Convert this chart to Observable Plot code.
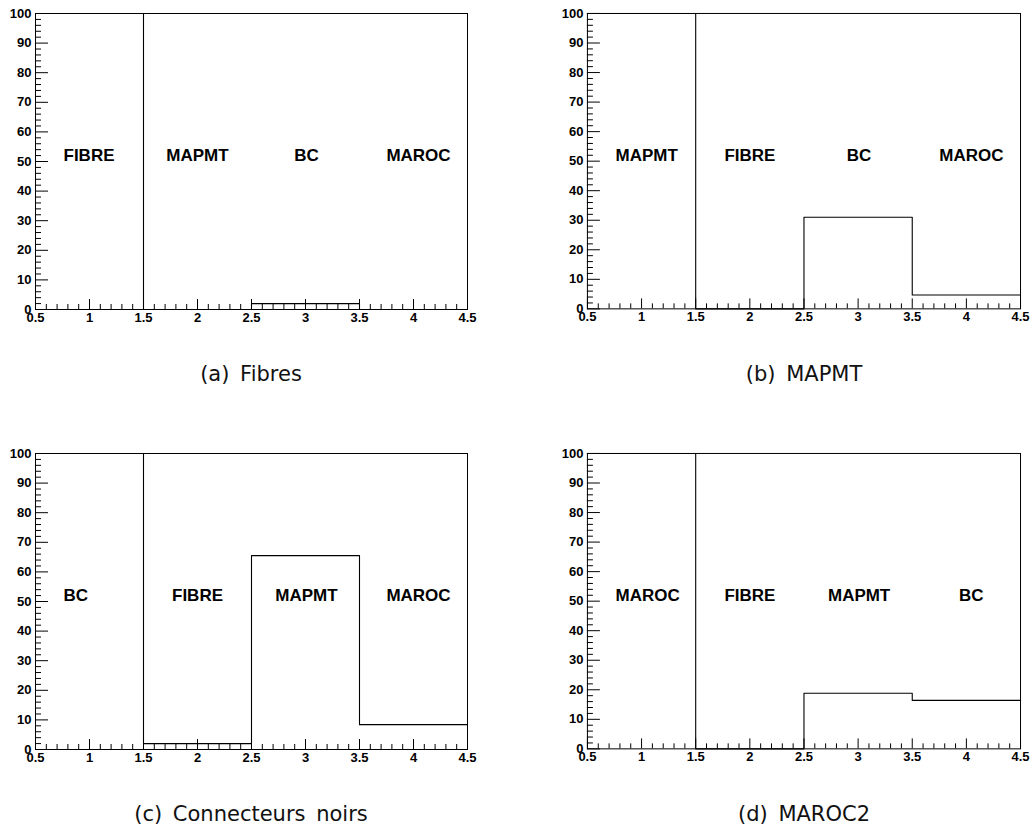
<!DOCTYPE html>
<html>
<head>
<meta charset="utf-8">
<script src="https://cdn.jsdelivr.net/npm/d3@7"></script>
<script src="https://cdn.jsdelivr.net/npm/@observablehq/plot@0.6"></script>
<style>
  html, body { margin: 0; padding: 0; background: #fff; }
  #page { position: relative; width: 1031px; height: 830px; background: #fff; overflow: hidden; }
  .panel { position: absolute; }
  .caption { position: absolute; width: 400px; text-align: center; font-family: "DejaVu Sans", sans-serif; font-size: 21px; color: #111; word-spacing: 4px; white-space: nowrap; }
</style>
</head>
<body>
<div id="page"></div>
<script>
// ---- data ----
const binEdges = [0.5, 1.5, 2.5, 3.5, 4.5];
const binCenters = [1, 2, 3, 4];
const xTicks = [0.5, 1, 1.5, 2, 2.5, 3, 3.5, 4, 4.5];
const yTicks = [0, 10, 20, 30, 40, 50, 60, 70, 80, 90, 100];

const labelsA = ["FIBRE", "MAPMT", "BC", "MAROC"];
const valuesA = [100, 0, 2, 0];
const labelsB = ["MAPMT", "FIBRE", "BC", "MAROC"];
const valuesB = [100, 0, 31, 4.7];
const labelsC = ["BC", "FIBRE", "MAPMT", "MAROC"];
const valuesC = [100, 2, 65.5, 8.4];
const labelsD = ["MAROC", "FIBRE", "MAPMT", "BC"];
const valuesD = [100, 0, 18.8, 16.4];
const captions = ["(a) Fibres", "(b) MAPMT", "(c) Connecteurs noirs", "(d) MAROC2"];
const labelLevel = 52;

// ---- layout ----
const panels = [
  {labels: labelsA, values: valuesA, left: 0,   top: 0,   mr: 13},
  {labels: labelsB, values: valuesB, left: 552, top: 0,   mr: 11},
  {labels: labelsC, values: valuesC, left: 0,   top: 440, mr: 13},
  {labels: labelsD, values: valuesD, left: 552, top: 440, mr: 11}
];
const W = 480, H = 330, ML = 35, MT = 13, MB = 21;
const page = document.getElementById("page");
const tickFont = {fontSize: 13, fontWeight: "bold", fill: "#000"};
const labelFont = {fontSize: 17, fontWeight: "bold", fill: "#000"};

const xMinor = d3.range(0.5, 4.5001, 0.1).map(v => +v.toFixed(2)).filter(v => !xTicks.some(t => Math.abs(t - v) < 1e-6));
const yMinor = d3.range(0, 100.001, 2).filter(v => v % 10 !== 0);

panels.forEach((p, i) => {
  const plotW = W - ML - p.mr, plotH = H - MT - MB;
  const steps = binEdges.map((e, k) => ({x: e, y: p.values[Math.min(k, p.values.length - 1)]}));
  const labs = p.labels.map((t, k) => ({x: binCenters[k], y: labelLevel, t, slot: k}));
  const chart = Plot.plot({
    width: W, height: H,
    marginLeft: ML, marginRight: p.mr, marginTop: MT, marginBottom: MB,
    x: {domain: [0.5, 4.5], label: null},
    y: {domain: [0, 100], label: null},
    style: {fontFamily: "'Liberation Sans', Arial, sans-serif", fontSize: "13px", fontWeight: "bold", color: "#000", background: "#fff", overflow: "visible"},
    marks: [
      Plot.tickX(xMinor, {x: d => d, insetTop: plotH - 5, stroke: "#000"}),
      Plot.tickX(xTicks, {x: d => d, insetTop: plotH - 10, stroke: "#000"}),
      Plot.tickY(yMinor, {y: d => d, insetRight: plotW - 6, stroke: "#000"}),
      Plot.tickY(yTicks, {y: d => d, insetRight: plotW - 13, stroke: "#000"}),
      Plot.line(steps, {x: "x", y: "y", curve: "step-after", stroke: "#000", strokeWidth: 1.1}),
      Plot.text(labs.filter(d => d.slot === 0), {x: "x", y: "y", text: "t", textAnchor: "start", dx: -26, ...labelFont}),
      Plot.text(labs.filter(d => d.slot === 1), {x: "x", y: "y", text: "t", ...labelFont}),
      Plot.text(labs.filter(d => d.slot === 2), {x: "x", y: "y", text: "t", dx: 1, ...labelFont}),
      Plot.text(labs.filter(d => d.slot === 3), {x: "x", y: "y", text: "t", dx: 5, ...labelFont}),
      Plot.frame({stroke: "#000", strokeWidth: 1}),
      Plot.axisX(xTicks, {tickSize: 0, tickPadding: 3, tickFormat: d => String(d), ...tickFont}),
      Plot.axisY(yTicks, {tickSize: 0, tickPadding: 4, tickFormat: d => String(d), ...tickFont})
    ]
  });
  const div = document.createElement("div");
  div.className = "panel";
  div.style.left = p.left + "px";
  div.style.top = p.top + "px";
  div.appendChild(chart);
  page.appendChild(div);

  const cap = document.createElement("div");
  cap.className = "caption";
  const center = p.left + ML + plotW / 2;
  cap.style.left = (center - 200) + "px";
  cap.style.top = (p.top + 362) + "px";
  cap.textContent = captions[i];
  page.appendChild(cap);
});
</script>
</body>
</html>
